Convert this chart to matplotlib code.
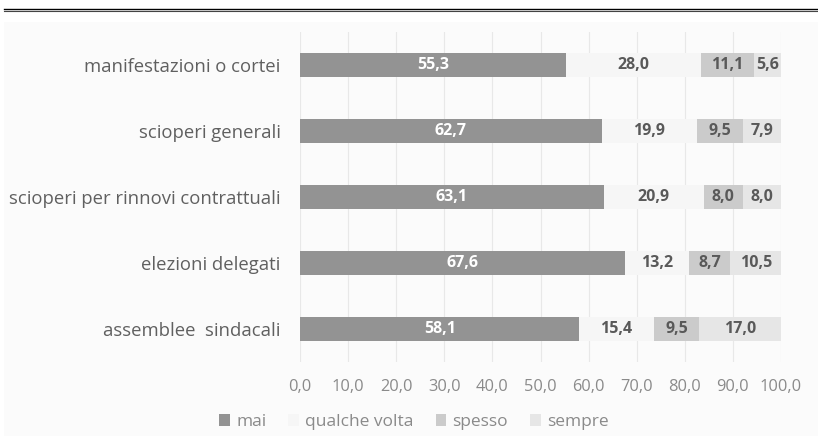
import numpy as np
import matplotlib
matplotlib.use("Agg")
import matplotlib.pyplot as plt
from matplotlib.lines import Line2D
from matplotlib.patches import Rectangle

plt.rcParams['font.family'] = ['Open Sans', 'DejaVu Sans']

# dati
categorie = ["manifestazioni o cortei", "scioperi generali",
             "scioperi per rinnovi contrattuali", "elezioni delegati",
             "assemblee  sindacali"]
serie = ["mai", "qualche volta", "spesso", "sempre"]
mai = [55.3, 62.7, 63.1, 67.6, 58.1]
qualche_volta = [28.0, 19.9, 20.9, 13.2, 15.4]
spesso = [11.1, 9.5, 8.0, 8.7, 9.5]
sempre = [5.6, 7.9, 8.0, 10.5, 17.0]
valori = [mai, qualche_volta, spesso, sempre]
tick_x = [0, 10, 20, 30, 40, 50, 60, 70, 80, 90, 100]

colori = ["#939393", "#f6f6f6", "#cbcbcb", "#e6e6e6"]
col_testo = ["white", "#595959", "#595959", "#595959"]

fig = plt.figure(figsize=(8.18, 4.36), dpi=100)
fig.patch.set_facecolor("white")
# sfondo leggermente grigio dell'area grafico
fig.add_artist(Rectangle((4/818, 0), 1, 1 - 22/436, transform=fig.transFigure,
                         facecolor="#fbfbfb", edgecolor="none", zorder=-10))
# doppia linea in alto
fig.add_artist(Line2D([4/818, 1], [1 - 9/436, 1 - 9/436], color="black", lw=1.0))
fig.add_artist(Line2D([4/818, 1], [1 - 11.5/436, 1 - 11.5/436], color="#444444", lw=0.8))

ax = fig.add_axes([300/818, 1 - 362/436, 481/818, 330/436])
ax.set_facecolor("none")

y = np.arange(len(categorie))
left = np.zeros(len(categorie))
for i, (nome, v) in enumerate(zip(serie, valori)):
    v = np.array(v)
    ax.barh(y, v, left=left, height=0.37, color=colori[i], label=nome, zorder=3)
    for yy, l, w in zip(y, left, v):
        ax.text(l + w / 2, yy, ("%.1f" % w).replace(".", ","), ha="center",
                va="center", color=col_testo[i], fontsize=11.5,
                fontweight="bold", zorder=4)
    left = left + v

ax.set_xlim(0, 100)
ax.set_ylim(4.5, -0.5)
ax.set_yticks(y)
ax.set_yticklabels(categorie, fontsize=13.3, color="#606060")
ax.set_xticks(tick_x)
ax.set_xticklabels([("%.1f" % t).replace(".", ",") for t in tick_x],
                   fontsize=11.8, color="#8a8a8a")
ax.tick_params(length=0, axis="both")
ax.tick_params(axis="x", pad=12)
ax.tick_params(axis="y", pad=14)
ax.grid(axis="x", color="#e8e8e8", lw=0.8, zorder=0)
for s in ax.spines.values():
    s.set_visible(False)

leg = fig.legend(loc="center", bbox_to_anchor=(414/818, 1 - 422/436), ncol=4,
                 frameon=False, fontsize=12.5, handlelength=0.63,
                 handleheight=0.63, handletextpad=0.35, columnspacing=1.25)
for t in leg.get_texts():
    t.set_color("#8a8a8a")

fig.savefig("out.png", dpi=100, facecolor=fig.get_facecolor())
